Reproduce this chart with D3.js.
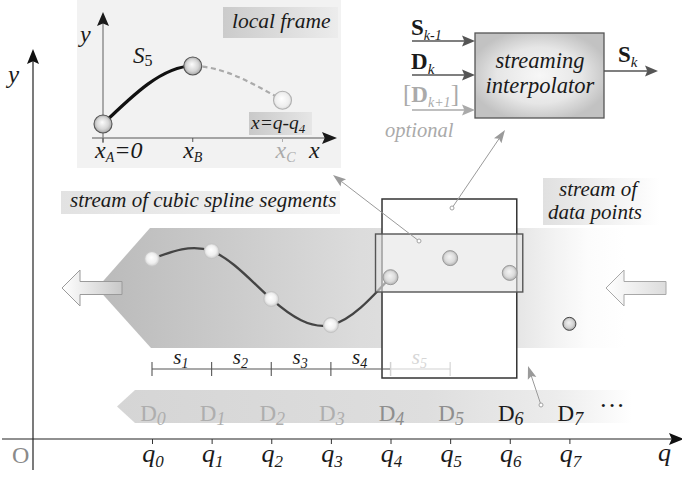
<!DOCTYPE html>
<html><head><meta charset="utf-8">
<script src="https://cdn.jsdelivr.net/npm/d3@7"></script>
<style>html,body{margin:0;padding:0;background:#fff;overflow:hidden}</style>
</head><body>
<svg id="fig" width="682" height="478" font-family="Liberation Serif, serif"></svg>
<script>
// knot indices along q, and the value of each data point D_k
const knots = [0, 1, 2, 3, 4, 5, 6, 7];
const qSubs = ["0", "1", "2", "3", "4", "5", "6", "7"];
const dataValues = [4.63, 4.83, 3.60, 2.93, 4.16, 4.65, 4.27, 2.96];
const dataSubs = ["0", "1", "2", "3", "4", "5", "6", "7"];
const segmentSubs = ["1", "2", "3", "4", "5"];
// local frame of the segment being built: x = q - q4
const localX = [0, 1, 2];
const localY = [0, 1, 0.41];
const localSubs = ["A", "B", "C"];

const SERIF = "Liberation Serif, serif";
const svg = d3.select("#fig");
const defs = svg.append("defs");

const x = d3.scaleLinear().domain([0, 7]).range([152, 569.4]);
const y = d3.scaleLinear().domain([0, 10]).range([439, 50]);
const lx = d3.scaleLinear().domain([0, 2]).range([103, 282.5]);
const ly = d3.scaleLinear().domain([0, 1]).range([124, 66]);

function linGrad(id, x1, x2, stops, y1, y2) {
  const g = defs.append("linearGradient").attr("id", id)
    .attr("gradientUnits", "userSpaceOnUse")
    .attr("x1", x1).attr("x2", x2).attr("y1", y1 || 0).attr("y2", y2 || 0);
  stops.forEach(s => g.append("stop").attr("offset", s[0]).attr("stop-color", s[1]));
}
function radGrad(id, stops, fx, fy) {
  const g = defs.append("radialGradient").attr("id", id)
    .attr("cx", "50%").attr("cy", "50%").attr("r", "55%")
    .attr("fx", fx || "45%").attr("fy", fy || "40%");
  stops.forEach(s => g.append("stop").attr("offset", s[0]).attr("stop-color", s[1]));
}
linGrad("bandGrad", 97, 625, [[0, "#bababa"], [0.5, "#dcdcdc"], [0.8, "#e6e6e6"], [0.87, "#f3f3f3"], [0.93, "#fcfcfc"], [1, "#ffffff"]]);
linGrad("dGrad", 117, 632, [[0, "#d5d5d5"], [0.6, "#dedede"], [0.85, "#ececec"], [1, "#ffffff"]]);
linGrad("segLabGrad", 61, 340, [[0, "#e2e2e2"], [1, "#f5f5f5"]]);
linGrad("dataLabGrad", 543, 660, [[0, "#e0e0e0"], [1, "#ffffff"]]);
linGrad("frameLabGrad", 223, 338, [[0, "#cbcbcb"], [1, "#ececec"]]);
linGrad("eqLabGrad", 249, 312, [[0, "#c9c9c9"], [1, "#e6e6e6"]]);
linGrad("leftArrowGrad", 62, 122, [[0, "#ffffff"], [1, "#c8c8c8"]]);
linGrad("rightArrowGrad", 606, 666, [[0, "#ffffff"], [1, "#dcdcdc"]]);
radGrad("boxGrad", [[0, "#f7f7f7"], [0.6, "#e6e6e6"], [1, "#c2c2c2"]], "50%", "50%");
radGrad("splinePt", [[0, "#ffffff"], [0.6, "#f0f0f0"], [1, "#c4c4c4"]]);
radGrad("windowPt", [[0, "#f4f4f4"], [0.6, "#dcdcdc"], [1, "#a8a8a8"]]);
radGrad("nextPt", [[0, "#f2f2f2"], [0.6, "#d4d4d4"], [1, "#9a9a9a"]]);
radGrad("localPt", [[0, "#fdfdfd"], [0.6, "#d6d6d6"], [1, "#9c9c9c"]]);
radGrad("localPtC", [[0, "#ffffff"], [0.7, "#eeeeee"], [1, "#d4d4d4"]]);

function arrowHead(g, tx, ty, ang, len, half, fill) {
  const dx = Math.cos(ang), dy = Math.sin(ang);
  const bx = tx - dx * len, by = ty - dy * len;
  const nx = tx - dx * len * 0.82, ny = ty - dy * len * 0.82;
  g.append("path")
    .attr("d", d3.line()([[tx, ty], [bx - dy * half, by + dx * half], [nx, ny], [bx + dy * half, by - dx * half]]) + "Z")
    .attr("fill", fill);
}
function arrow(g, x1, y1, x2, y2, color, width, len, half) {
  const ang = Math.atan2(y2 - y1, x2 - x1);
  g.append("line").attr("x1", x1).attr("y1", y1)
    .attr("x2", x2 - Math.cos(ang) * len * 0.8).attr("y2", y2 - Math.sin(ang) * len * 0.8)
    .attr("stroke", color).attr("stroke-width", width);
  arrowHead(g, x2, y2, ang, len, half, color);
}
function pointer(g, x1, y1, x2, y2) {
  arrow(g, x1, y1, x2, y2, "#9a9a9a", 1, 13, 4.5);
  g.append("circle").attr("cx", x1).attr("cy", y1).attr("r", 2)
    .attr("fill", "#fff").attr("stroke", "#9a9a9a").attr("stroke-width", 0.9);
}
// text with an optional subscript and optional trailing text
function label(g, px, py, main, o) {
  o = o || {};
  const t = g.append("text").attr("x", px).attr("y", py)
    .attr("text-anchor", o.anchor || "start")
    .attr("fill", o.fill || "#1a1a1a")
    .attr("font-family", SERIF).attr("font-size", o.size || 20);
  t.append("tspan").text(main)
    .attr("font-style", o.italic === false ? "normal" : "italic")
    .attr("font-weight", o.bold ? "bold" : "normal");
  if (o.sub != null) {
    t.append("tspan").attr("dy", o.subDy || 4).text(o.sub)
      .attr("font-size", o.subSize || 14)
      .attr("font-style", o.subItalic === false ? "normal" : "italic");
  }
  if (o.tail != null) {
    t.append("tspan").attr("dy", -(o.subDy || 4)).text(o.tail)
      .attr("font-style", "italic");
  }
  return t;
}

// ---------- local frame inset ----------
const inset = svg.append("g");
inset.append("rect").attr("x", 77).attr("y", 0).attr("width", 264).attr("height", 168).attr("fill", "#f2f2f2");
inset.append("rect").attr("x", 223).attr("y", 7).attr("width", 115).attr("height", 31).attr("fill", "url(#frameLabGrad)");
label(inset, 232, 28, "local frame", { size: 21.5 });
inset.append("rect").attr("x", 249).attr("y", 112).attr("width", 63).attr("height", 23).attr("fill", "url(#eqLabGrad)");
label(inset, 251, 129, "x=q-q", { size: 19.5, sub: "4", subSize: 13, subDy: 4 });

inset.append("line").attr("x1", lx(0)).attr("y1", 143).attr("x2", lx(0)).attr("y2", 22)
  .attr("stroke", "#8a8a8a").attr("stroke-width", 1.4);
arrowHead(inset, lx(0), 12, -Math.PI / 2, 14, 6, "#1a1a1a");
inset.append("line").attr("x1", 92).attr("y1", 138).attr("x2", 326).attr("y2", 138)
  .attr("stroke", "#8a8a8a").attr("stroke-width", 1.4);
arrowHead(inset, 337, 138, 0, 15, 6, "#1a1a1a");
localX.forEach((v, i) => {
  inset.append("line").attr("x1", lx(v)).attr("x2", lx(v)).attr("y1", 138).attr("y2", 142)
    .attr("stroke", i === 2 ? "#b0b0b0" : "#555").attr("stroke-width", 1);
});
label(inset, 80, 42, "y", { size: 24 });
label(inset, 309, 158, "x", { size: 24 });
label(inset, 95, 158, "x", { size: 24, sub: localSubs[0], subSize: 14, subDy: 4, tail: "=0" });
label(inset, lx(1), 158, "x", { size: 24, sub: localSubs[1], subSize: 14, subDy: 4, anchor: "middle" });
label(inset, lx(2) + 3, 158, "x", { size: 24, sub: localSubs[2], subSize: 14, subDy: 4, anchor: "middle", fill: "#aaaaaa" });
label(inset, 133, 63, "S", { size: 23, sub: "5", subSize: 16, subDy: 3, subItalic: false });

const localPts = localX.map((v, i) => [lx(v), ly(localY[i])]);
const localCurve = d3.line().curve(d3.curveMonotoneX);
defs.append("clipPath").attr("id", "clipAB").append("rect")
  .attr("x", 0).attr("y", 0).attr("width", lx(1)).attr("height", 200);
defs.append("clipPath").attr("id", "clipBC").append("rect")
  .attr("x", lx(1)).attr("y", 0).attr("width", 300).attr("height", 200);
inset.append("path").attr("d", localCurve(localPts)).attr("clip-path", "url(#clipBC)")
  .attr("fill", "none").attr("stroke", "#aaaaaa").attr("stroke-width", 2.2).attr("stroke-dasharray", "5,3.5");
inset.append("path").attr("d", localCurve(localPts)).attr("clip-path", "url(#clipAB)")
  .attr("fill", "none").attr("stroke", "#111").attr("stroke-width", 3.2);
localPts.forEach((p, i) => {
  inset.append("circle").attr("cx", p[0]).attr("cy", p[1]).attr("r", 9)
    .attr("fill", i === 2 ? "url(#localPtC)" : "url(#localPt)")
    .attr("stroke", i === 2 ? "#b0b0b0" : "#555").attr("stroke-width", 1.1);
});

// ---------- streaming interpolator block ----------
const blk = svg.append("g");
blk.append("rect").attr("x", 475).attr("y", 33).attr("width", 129).attr("height", 85)
  .attr("fill", "url(#boxGrad)").attr("stroke", "#555").attr("stroke-width", 1.3);
label(blk, 540, 68, "streaming", { size: 22.5, anchor: "middle" });
label(blk, 540, 93, "interpolator", { size: 22.5, anchor: "middle" });
arrow(blk, 412, 41, 475, 41, "#555", 1.4, 13, 5.5);
arrow(blk, 412, 75, 475, 75, "#555", 1.4, 13, 5.5);
arrow(blk, 412, 110, 475, 110, "#aaaaaa", 1.4, 13, 5.5);
arrow(blk, 604, 71, 658, 71, "#555", 1.4, 13, 5.5);
label(blk, 411, 35, "S", { size: 23, bold: true, italic: false, sub: "k-1", subSize: 14, subDy: 5 });
label(blk, 411, 69, "D", { size: 23, bold: true, italic: false, sub: "k", subSize: 15, subDy: 5 });
const dk1 = blk.append("text").attr("x", 403).attr("y", 102).attr("fill", "#aaaaaa")
  .attr("font-family", SERIF).attr("font-size", 25);
dk1.append("tspan").text("[");
dk1.append("tspan").text("D").attr("font-weight", "bold").attr("font-size", 23);
dk1.append("tspan").attr("dy", 5).text("k+1").attr("font-style", "italic").attr("font-size", 14);
dk1.append("tspan").attr("dy", -5).text("]");
label(blk, 385, 137, "optional", { size: 20.5, fill: "#aaaaaa" });
label(blk, 618, 62, "S", { size: 23, bold: true, italic: false, sub: "k", subSize: 15, subDy: 5 });

// ---------- main axes ----------
const axes = svg.append("g");
axes.append("line").attr("x1", 33).attr("y1", 470).attr("x2", 33).attr("y2", 60)
  .attr("stroke", "#222").attr("stroke-width", 1.2);
arrowHead(axes, 33, y(10) - 1, -Math.PI / 2, 15, 6, "#111");
axes.append("line").attr("x1", 2).attr("y1", y(0)).attr("x2", 672).attr("y2", y(0))
  .attr("stroke", "#222").attr("stroke-width", 1.2);
arrowHead(axes, 684, y(0), 0, 15, 6, "#111");
const xAxis = axes.append("g").attr("transform", `translate(0,${y(0)})`)
  .call(d3.axisBottom(x).tickValues(knots).tickSize(5).tickFormat(""));
xAxis.select(".domain").remove();
xAxis.selectAll(".tick line").attr("stroke", "#333");
knots.forEach(k => label(axes, x(k) + 1, 462, "q", { size: 26, sub: qSubs[k], subSize: 17, subDy: 5, anchor: "middle" }));
label(axes, 658, 461, "q", { size: 26 });
label(axes, 12, 463, "O", { size: 24, italic: false, fill: "#8a8a8a" });
label(axes, 8, 83, "y", { size: 25 });

// ---------- spline band and data stream ----------
const band = svg.append("g");
band.append("path").attr("d", d3.line()([[150, 228], [630, 228], [630, 348], [151, 348], [97, 288]]) + "Z")
  .attr("fill", "url(#bandGrad)");
band.append("path").attr("d", d3.line()([[62, 288], [80, 270], [80, 281.5], [122, 281.5], [122, 294.5], [80, 294.5], [80, 306]]) + "Z")
  .attr("fill", "url(#leftArrowGrad)").attr("stroke", "#9a9a9a").attr("stroke-width", 1);
band.append("path").attr("d", d3.line()([[606, 288], [624, 270], [624, 281.5], [666, 281.5], [666, 294.5], [624, 294.5], [624, 306]]) + "Z")
  .attr("fill", "url(#rightArrowGrad)").attr("stroke", "#a8a8a8").attr("stroke-width", 1);

band.append("rect").attr("x", 61).attr("y", 191).attr("width", 279).attr("height", 23).attr("fill", "url(#segLabGrad)");
label(band, 70, 207, "stream of cubic spline segments", { size: 21 });
band.append("rect").attr("x", 543).attr("y", 178).attr("width", 117).attr("height", 47).attr("fill", "url(#dataLabGrad)");
label(band, 598, 196, "stream of", { size: 21, anchor: "middle" });
label(band, 595, 219, "data points", { size: 21, anchor: "middle" });

// segment spans s1..s4 below the curve
const seg = svg.append("g");
const segY = 369;
seg.append("line").attr("x1", x(0)).attr("x2", x(4)).attr("y1", segY).attr("y2", segY)
  .attr("stroke", "#555").attr("stroke-width", 1.1);
knots.slice(0, 5).forEach(k => seg.append("line").attr("x1", x(k)).attr("x2", x(k))
  .attr("y1", segY - 7).attr("y2", segY + 7).attr("stroke", "#555").attr("stroke-width", 1.1));
segmentSubs.slice(0, 4).forEach((s, i) => label(seg, (x(i) + x(i + 1)) / 2 - 1, 364, "s",
  { size: 21, sub: s, subSize: 14, subDy: 4, anchor: "middle" }));

// processing window
const win = svg.append("g");
const winL = x(4) - 8.5, winR = x(6) + 7;
win.append("rect").attr("x", winL).attr("y", 199).attr("width", winR - winL).attr("height", 179)
  .attr("fill", "#fff").attr("stroke", "#333").attr("stroke-width", 1.5);

// spline through the processed points
const spline = d3.line().x(d => x(d)).y(d => y(dataValues[d])).curve(d3.curveNatural);
svg.append("path").attr("d", spline(knots.slice(0, 5)))
  .attr("fill", "none").attr("stroke", "#444").attr("stroke-width", 2.3);

const hwL = x(4) - 15, hwR = x(6) + 13;
svg.append("rect").attr("x", hwL).attr("y", 234).attr("width", hwR - hwL).attr("height", 58)
  .attr("fill", "#e4e4e4").attr("fill-opacity", 0.6).attr("stroke", "#555").attr("stroke-width", 1.4);

// next segment span (not yet produced)
seg.raise();
const seg5 = svg.append("g");
seg5.append("line").attr("x1", x(4)).attr("x2", x(5)).attr("y1", segY).attr("y2", segY)
  .attr("stroke", "#d2d2d2").attr("stroke-width", 1.1);
[4, 5].forEach(k => seg5.append("line").attr("x1", x(k)).attr("x2", x(k))
  .attr("y1", segY - 7).attr("y2", segY + 7).attr("stroke", "#d2d2d2").attr("stroke-width", 1.1));
label(seg5, (x(4) + x(5)) / 2 - 1, 364, "s", { size: 21, sub: segmentSubs[4], subSize: 14, subDy: 4, anchor: "middle", fill: "#d6d6d6" });

// data points
const pts = svg.append("g");
knots.forEach(k => {
  const inWindow = k >= 4 && k <= 6;
  pts.append("circle").attr("cx", x(k)).attr("cy", y(dataValues[k]))
    .attr("r", k === 7 ? 6.5 : 7.5)
    .attr("fill", k < 4 ? "url(#splinePt)" : inWindow ? "url(#windowPt)" : "url(#nextPt)")
    .attr("stroke", k < 4 ? "#c4c4c4" : inWindow ? "#9a9a9a" : "#444")
    .attr("stroke-width", 1);
});

// data stream labels D0..D7
const dband = svg.append("g");
dband.append("path").attr("d", d3.line()([[117, 406.5], [135, 390], [632, 390], [632, 423], [135, 423]]) + "Z")
  .attr("fill", "url(#dGrad)");
knots.forEach(k => label(dband, x(k) + 1, 421, "D", {
  size: 23, italic: false, sub: dataSubs[k], subSize: 18, subDy: 4, anchor: "middle",
  fill: k < 4 ? "#aeaeae" : k < 6 ? "#8e8e8e" : "#1a1a1a"
}));
label(dband, 612, 414, "···", { size: 26, italic: false, anchor: "middle" });

// pointers from the window to the blocks above
pointer(svg, 419, 241, 333, 175);
pointer(svg, 452, 208, 505, 130);
pointer(svg, 541, 405, 528, 366);
</script>
</body></html>
